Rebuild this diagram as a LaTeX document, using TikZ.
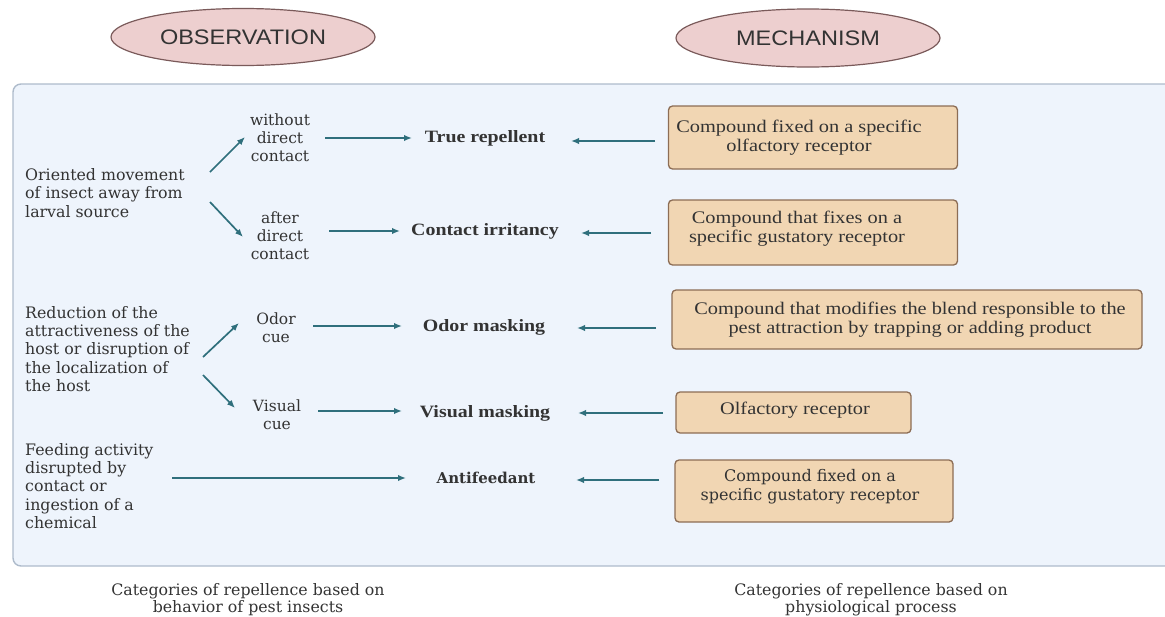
\documentclass[tikz,border=0pt]{standalone}
\usepackage{fontspec}
\setmainfont{Liberation Serif}
\newfontfamily\tserif[FakeStretch=1.15]{Liberation Serif}
\newfontfamily\dserif{DejaVu Serif}
\newfontfamily\hsans[FakeStretch=1.12]{Liberation Sans}
\usetikzlibrary{arrows.meta,calc,shapes.geometric}
\definecolor{ellfill}{HTML}{EDCFCF}
\definecolor{elldraw}{HTML}{7A5A5A}
\definecolor{panelfill}{HTML}{EEF4FC}
\definecolor{paneldraw}{HTML}{AEBBCB}
\definecolor{boxfill}{HTML}{F1D6B3}
\definecolor{boxdraw}{HTML}{8C6D55}
\definecolor{arrc}{HTML}{2F6F7C}
\definecolor{txt}{HTML}{333333}
\tikzset{
  ell/.style={ellipse, draw=elldraw, fill=ellfill, line width=1.2pt, inner sep=0,
    font=\hsans\fontsize{21}{24}\selectfont, text=txt},
  lefttxt/.style={font=\dserif\fontsize{15.8}{18.3}\selectfont, text=txt, align=left, anchor=west, inner sep=0},
  midtxt/.style={font=\dserif\fontsize{15.5}{18}\selectfont, text=txt, align=center, inner sep=0},
  lbl/.style={font=\tserif\bfseries\fontsize{17.3}{20}\selectfont, text=txt, inner sep=0},
  mbox/.style={draw=boxdraw, fill=boxfill, rounded corners=4pt, line width=1.3pt, inner sep=0},
  btxt/.style={font=\tserif\fontsize{17.7}{19}\selectfont, text=txt, align=center, inner sep=0},
  captxt/.style={font=\dserif\fontsize{15.8}{17.5}\selectfont, text=txt, align=center, inner sep=0},
  arr/.style={-{Latex[length=8pt,width=6.5pt]}, draw=arrc, line width=1.7pt},
}
\begin{document}
\begin{tikzpicture}[x=1pt,y=-1pt]
\useasboundingbox (0,0) rectangle (1165,616);
% headings
\node[ell, minimum width=264pt, minimum height=57pt] (obs) at (243,37) {OBSERVATION};
\node[ell, minimum width=264pt, minimum height=58pt] (mech) at (808,38) {MECHANISM};
% panel
\draw[draw=paneldraw, fill=panelfill, line width=1.4pt, rounded corners=8pt] (13,84) rectangle (1195,566);
% left texts
\node[lefttxt] (ori) at (25,193) {Oriented movement\\of insect away from\\larval source};
\node[lefttxt] (red) at (25,349) {Reduction of the\\attractiveness of the\\host or disruption of\\the localization of\\the host};
\node[lefttxt] (feed) at (25,486) {Feeding activity\\disrupted by\\contact or\\ingestion of a\\chemical};
% middle texts
\node[midtxt] (wo) at (280,138) {without\\direct\\contact};
\node[midtxt] (af) at (280,236) {after\\direct\\contact};
\node[midtxt] (oc) at (276,328) {Odor\\cue};
\node[midtxt] (vc) at (277,415) {Visual\\cue};
% labels
\node[lbl] (tr) at (485,138) {True repellent};
\node[lbl] (ci) at (485,231) {Contact irritancy};
\node[lbl] (om) at (484,327) {Odor masking};
\node[lbl] (vm) at (485,413) {Visual masking};
\node[font=\dserif\bfseries\fontsize{15}{17}\selectfont, text=txt, inner sep=0] (an) at (486,478) {Antifeedant};
% boxes
\node[mbox, minimum width=289pt, minimum height=63pt] (b1) at (813,137.5) {};
\node[btxt] (b1t) at (799,137.5) {Compound fixed on a specific\\olfactory receptor};
\node[mbox, minimum width=289pt, minimum height=65pt] (b2) at (813,232.5) {};
\node[btxt] (b2t) at (797,229) {Compound that fixes on a\\specific gustatory receptor};
\node[mbox, minimum width=470pt, minimum height=59pt] (b3) at (907,319.5) {};
\node[btxt] (b3t) at (910,319.5) {Compound that modifies the blend responsible to the\\pest attraction by trapping or adding product};
\node[mbox, minimum width=235pt, minimum height=41pt] (b4) at (793.5,412.5) {};
\node[btxt] (b4t) at (795,410) {Olfactory receptor};
\node[mbox, minimum width=278pt, minimum height=62pt] (b5) at (814,491) {};
\node[btxt, font=\dserif\fontsize{16}{19}\selectfont] (b5t) at (810,487) {Compound fixed on a\\specific gustatory receptor};
% captions
\node[captxt] (cap1) at (248,599.5) {Categories of repellence based on\\behavior of pest insects};
\node[captxt] (cap2) at (871,599.5) {Categories of repellence based on\\physiological process};
% diagonal arrows
\draw[arr] ($(ori.west)+(185,-21)$) -- ($(wo.center)+(-35,-1)$);
\draw[arr] ($(ori.west)+(185,9)$) -- ($(af.center)+(-37,1)$);
\draw[arr] ($(red.west)+(178,8)$) -- ($(oc.center)+(-37,-5)$);
\draw[arr] ($(red.west)+(178,26)$) -- ($(vc.center)+(-42,-7)$);
% forward arrows
\draw[arr] ($(wo.center)+(45,0)$) -- ($(tr.center)+(-73,0)$);
\draw[arr] ($(af.center)+(49,-5)$) -- ($(ci.center)+(-85,0)$);
\draw[arr] ($(oc.center)+(37,-2)$) -- ($(om.center)+(-82,-1)$);
\draw[arr] ($(vc.center)+(41,-4)$) -- ($(vm.center)+(-83,-2)$);
\draw[arr] ($(feed.west)+(147,-8)$) -- ($(an.center)+(-80,0)$);
% back arrows
\draw[arr] ($(b1.center)+(-158,3.5)$) -- ($(tr.center)+(86,3)$);
\draw[arr] ($(b2.center)+(-162,0.5)$) -- ($(ci.center)+(96,2)$);
\draw[arr] ($(b3.center)+(-251,8.5)$) -- ($(om.center)+(93,1)$);
\draw[arr] ($(b4.center)+(-130.5,0.5)$) -- ($(vm.center)+(93,0)$);
\draw[arr] ($(b5.center)+(-155,-11)$) -- ($(an.center)+(90,2)$);
\end{tikzpicture}
\end{document}
